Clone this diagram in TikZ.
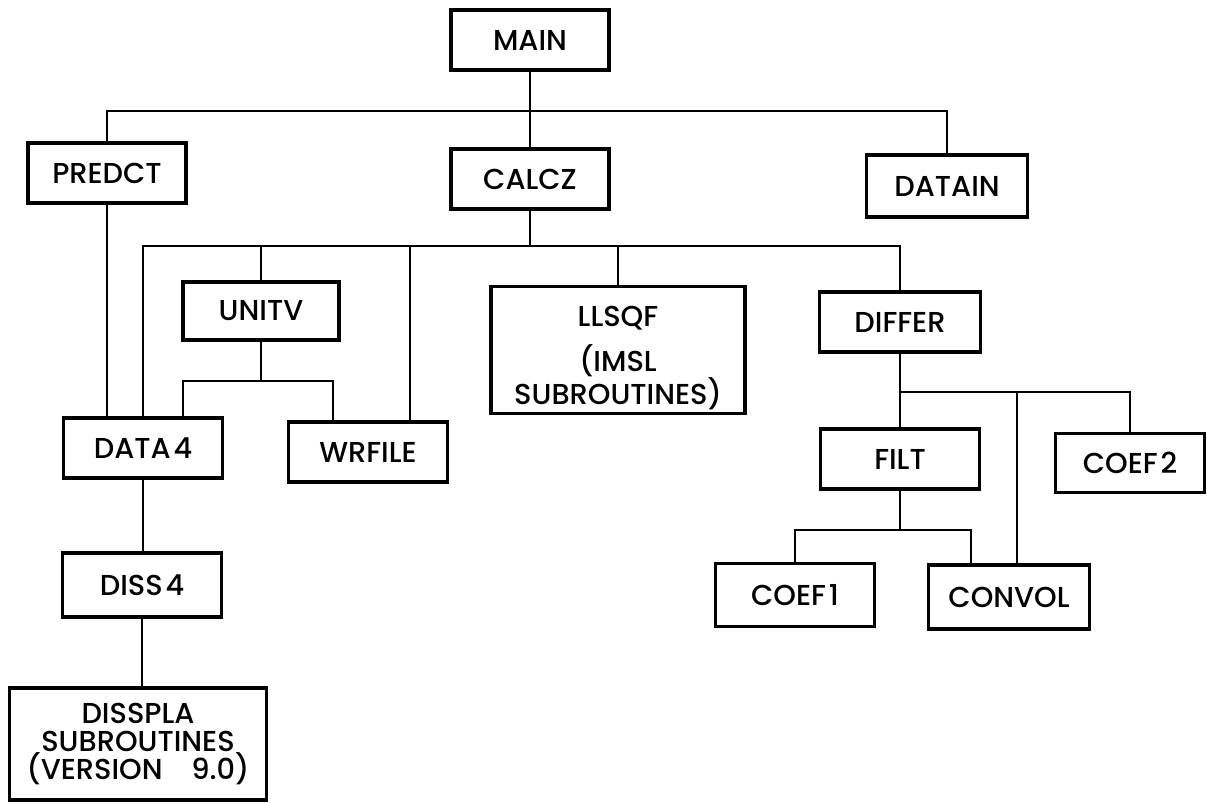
\documentclass[tikz,border=0pt]{standalone}
\usepackage{fontspec}
\setmainfont{Poppins}[UprightFont=* Medium]
\begin{document}
\begin{tikzpicture}[x=0.025cm,y=-0.025cm,
  bx/.style n args={2}{draw, line width=2.6pt, inner sep=0pt, align=center,
     minimum width=#1*0.025cm, minimum height=#2*0.025cm,
     font=\fontsize{20.5}{20}\selectfont},
  ln/.style={line width=1.9pt}]
\useasboundingbox (0,0) rectangle (1207,803);
% boxes
\node[bx={158}{60}] (MAIN)   at (530,40)  {MAIN};
\node[bx={158}{60}] (PREDCT) at (107,173) {PREDCT};
\node[bx={158}{60}] (CALCZ)  at (530,179) {CALCZ};
\node[bx={161}{62}] (DATAIN) at (947,186) {DATAIN};
\node[bx={156}{58}] (UNITV)  at (261,311) {UNITV};
\node[bx={254}{127}] (LLSQF) at (618,350) {\rule{0pt}{26pt}LLSQF\\[9pt](IMSL\\SUBROUTINES)};
\node[bx={161}{60}] (DIFFER) at (900,322) {DIFFER};
\node[bx={159}{60}] (DATA4)  at (143,448) {DATA\kern2pt4};
\node[bx={159}{60}] (WRFILE) at (368,452) {WRFILE};
\node[bx={159}{60}] (FILT)   at (900,459) {FILT};
\node[bx={149}{59}] (COEF2)  at (1130,463) {COEF\kern2pt2};
\node[bx={159}{64}] (DISS4)  at (142,585) {DISS\kern2pt4};
\node[bx={159}{63}] (COEF1)  at (795,595) {COEF\kern2pt1};
\node[bx={161}{64}] (CONVOL) at (1009,597) {CONVOL};
\node[bx={257}{112}] (DISSPLA) at (138,744) {DISSPLA\\SUBROUTINES\\(VERSION\quad 9.0)};
% bus levels
\coordinate (b1) at (0,111);
\coordinate (b2) at (0,246);
\coordinate (b3) at (0,381);
\coordinate (b4) at (0,392);
\coordinate (b5) at (0,530);
\coordinate (xU) at (183,0);
\coordinate (xW1) at (333,0);
\coordinate (xW2) at (410,0);
\coordinate (xC1) at (971,0);
\coordinate (xC2) at (1017,0);
% MAIN level
\draw[ln] (MAIN.south) -- (CALCZ.north);
\draw[ln] (PREDCT.north) -- (PREDCT.north |- b1) -- (DATAIN.north |- b1) -- (DATAIN.north);
% CALCZ level
\draw[ln] (CALCZ.south) -- (CALCZ.south |- b2);
\draw[ln] (DATA4.north) -- (DATA4.north |- b2) -- (DIFFER.north |- b2) -- (DIFFER.north);
\draw[ln] (UNITV.north |- b2) -- (UNITV.north);
\draw[ln] (xW2 |- b2) -- (xW2 |- WRFILE.north);
\draw[ln] (LLSQF.north |- b2) -- (LLSQF.north);
% PREDCT to DATA4
\draw[ln] (PREDCT.south) -- (PREDCT.south |- DATA4.north);
% UNITV level
\draw[ln] (UNITV.south) -- (UNITV.south |- b3);
\draw[ln] (xU |- DATA4.north) -- (xU |- b3) -- (xW1 |- b3) -- (xW1 |- WRFILE.north);
% DATA4 chain
\draw[ln] (DATA4.south) -- (DATA4.south |- DISS4.north);
\draw[ln] (DISS4.south) -- (DISS4.south |- DISSPLA.north);
% DIFFER level
\draw[ln] (DIFFER.south) -- (FILT.north);
\draw[ln] (DIFFER.south |- b4) -- (COEF2.north |- b4) -- (COEF2.north);
\draw[ln] (xC2 |- b4) -- (xC2 |- CONVOL.north);
% FILT level
\draw[ln] (FILT.south) -- (FILT.south |- b5);
\draw[ln] (COEF1.north) -- (COEF1.north |- b5) -- (xC1 |- b5) -- (xC1 |- CONVOL.north);
\end{tikzpicture}
\end{document}
